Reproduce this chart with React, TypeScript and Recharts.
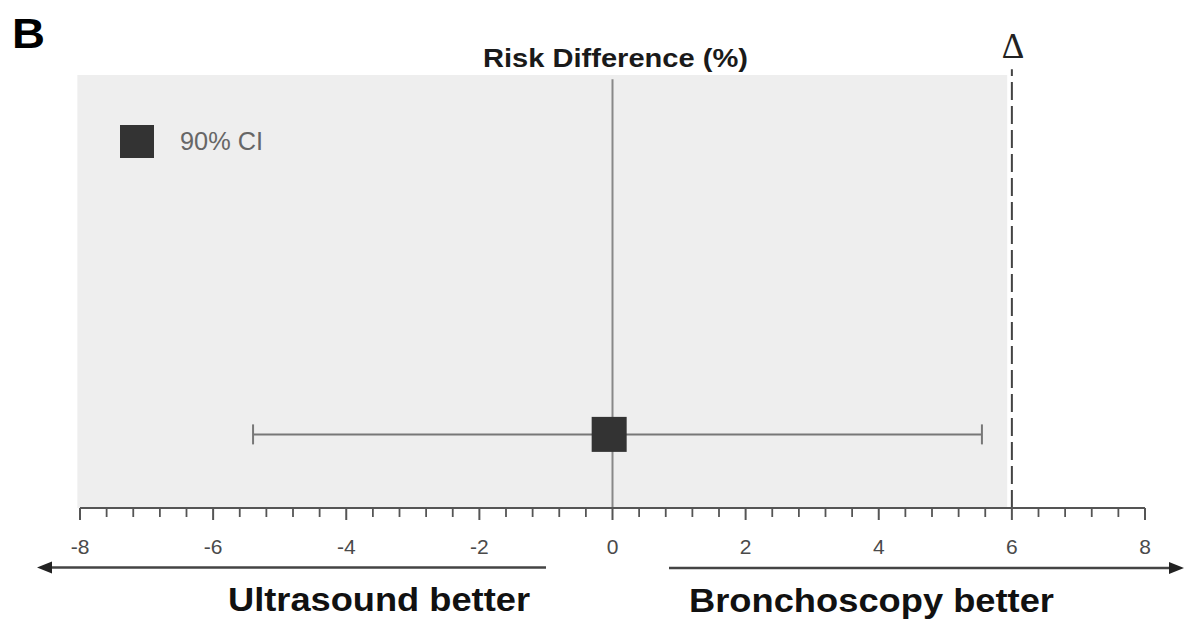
import React from 'react';
import {
  ComposedChart,
  Scatter,
  ErrorBar,
  XAxis,
  YAxis,
  ReferenceArea,
  ReferenceLine,
} from 'recharts';

// ---- data ----
const categories = ['Risk difference'];
const pointEstimates = [-0.05];
const ciLower = [-5.4];
const ciUpper = [5.55];
const rowPositions = [0.17];
const deltaMargin = 6;
const majorTicks = [-8, -6, -4, -2, 0, 2, 4, 6, 8];
const minorTicks = [
  -8, -7.6, -7.2, -6.8, -6.4, -6, -5.6, -5.2, -4.8, -4.4, -4, -3.6, -3.2, -2.8,
  -2.4, -2, -1.6, -1.2, -0.8, -0.4, 0, 0.4, 0.8, 1.2, 1.6, 2, 2.4, 2.8, 3.2,
  3.6, 4, 4.4, 4.8, 5.2, 5.6, 6, 6.4, 6.8, 7.2, 7.6, 8,
];
const legendLabels = ['90% CI'];
const titleText = 'Risk Difference (%)';
const leftLabel = 'Ultrasound better';
const rightLabel = 'Bronchoscopy better';
const panelLabel = 'B';

const rows = categories.map((name, i) => ({
  name,
  x: pointEstimates[i],
  y: rowPositions[i],
  err: [pointEstimates[i] - ciLower[i], ciUpper[i] - pointEstimates[i]],
}));

const FONT = '"Liberation Sans", Arial, Helvetica, sans-serif';
const W = 1186;
const H = 621;

const isMajor = (v: number) => majorTicks.some((m) => Math.abs(m - v) < 1e-6);

const AxisTick = (props: any) => {
  const { x, y, payload } = props;
  const v = payload?.value;
  const major = isMajor(v);
  return (
    <g>
      <line
        x1={x}
        y1={y}
        x2={x}
        y2={y + (major ? 12 : 9)}
        stroke="#555"
        strokeWidth={major ? 2 : 1.8}
      />
      {major ? (
        <text
          x={x}
          y={y + 31}
          dy="0.71em"
          textAnchor="middle"
          fontFamily={FONT}
          fontSize={21}
          fill="#4a4a4a"
        >
          {String(v)}
        </text>
      ) : null}
    </g>
  );
};

const SquareShape = (props: any) => {
  const { cx, cy } = props;
  if (cx == null || cy == null) return null;
  const s = 35;
  return <rect x={cx - s / 2} y={cy - s / 2} width={s} height={s} fill="#333333" />;
};

const Overlay = () => (
  <svg
    width={W}
    height={H}
    style={{ position: 'absolute', left: 0, top: 0, pointerEvents: 'none' }}
  >
    <text x={12} y={48} fontFamily={FONT} fontWeight="bold" fontSize={42} fill="#000" textLength={33} lengthAdjust="spacingAndGlyphs">
      {panelLabel}
    </text>
    <text x={483} y={66.5} fontFamily={FONT} fontWeight="bold" fontSize={26.5} fill="#1a1a1a" textLength={265} lengthAdjust="spacingAndGlyphs">
      {titleText}
    </text>
    <text x={1013} y={58} fontFamily='"Liberation Serif", "Times New Roman", serif' fontSize={35} fill="#222" textAnchor="middle">
      Δ
    </text>
    {/* legend */}
    <rect x={120} y={125} width={34} height={33} fill="#333333" />
    <text x={180} y={150} fontFamily={FONT} fontSize={26} fill="#666" textLength={83} lengthAdjust="spacingAndGlyphs">
      {legendLabels[0]}
    </text>
    {/* arrows */}
    <line x1={50} y1={567.5} x2={546} y2={567.5} stroke="#444" strokeWidth={2.5} />
    <polygon points="37,567.5 52,561.5 52,573.5" fill="#222" />
    <line x1={669} y1={568} x2={1171} y2={568} stroke="#444" strokeWidth={2.5} />
    <polygon points="1184,568 1169,562 1169,574" fill="#222" />
    <text x={228} y={611} fontFamily={FONT} fontWeight="bold" fontSize={32.5} fill="#111" textLength={302} lengthAdjust="spacingAndGlyphs">
      {leftLabel}
    </text>
    <text x={689} y={611.5} fontFamily={FONT} fontWeight="bold" fontSize={32.5} fill="#111" textLength={365} lengthAdjust="spacingAndGlyphs">
      {rightLabel}
    </text>
  </svg>
);

export default function App() {
  return (
    <div style={{ position: 'absolute', left: 0, top: 0, width: W, height: H, background: '#fff' }}>
      <ComposedChart
        width={W}
        height={H}
        data={rows}
        margin={{ top: 75, right: 41, bottom: 73, left: 80 }}
      >
        <XAxis
          xAxisId="main"
          type="number"
          dataKey="x"
          domain={[-8, 8]}
          ticks={minorTicks}
          interval={0}
          height={40}
          tickSize={0}
          tickMargin={0}
          axisLine={{ stroke: '#555', strokeWidth: 2 }}
          tickLine={false}
          tick={AxisTick}
          allowDataOverflow
        />
        <YAxis yAxisId="y" type="number" domain={[0, 1]} hide allowDataOverflow />
        <ReferenceArea
          xAxisId="main"
          yAxisId="y"
          x1={-8.04}
          x2={5.93}
          y1={0}
          y2={1}
          fill="#eeeeee"
          fillOpacity={1}
          stroke="none"
          ifOverflow="visible"
        />
        <ReferenceLine
          xAxisId="main"
          yAxisId="y"
          segment={[{ x: 0, y: 0 }, { x: 0, y: 0.99 }]}
          stroke="#888"
          strokeWidth={2}
          ifOverflow="visible"
        />
        <ReferenceLine
          xAxisId="main"
          yAxisId="y"
          segment={[{ x: deltaMargin, y: 0 }, { x: deltaMargin, y: 1.013 }]}
          stroke="#444"
          strokeWidth={2}
          strokeDasharray="18 6"
          ifOverflow="visible"
        />
        <Scatter
          xAxisId="main"
          yAxisId="y"
          dataKey="y"
          data={rows}
          fill="#333333"
          shape={() => null}
          isAnimationActive={false}
        >
          <ErrorBar dataKey="err" direction="x" width={10} stroke="#777" strokeWidth={2} />
        </Scatter>
        <Scatter
          xAxisId="main"
          yAxisId="y"
          dataKey="y"
          data={rows}
          fill="#333333"
          shape={SquareShape}
          isAnimationActive={false}
        />
      </ComposedChart>
      <Overlay />
    </div>
  );
}
